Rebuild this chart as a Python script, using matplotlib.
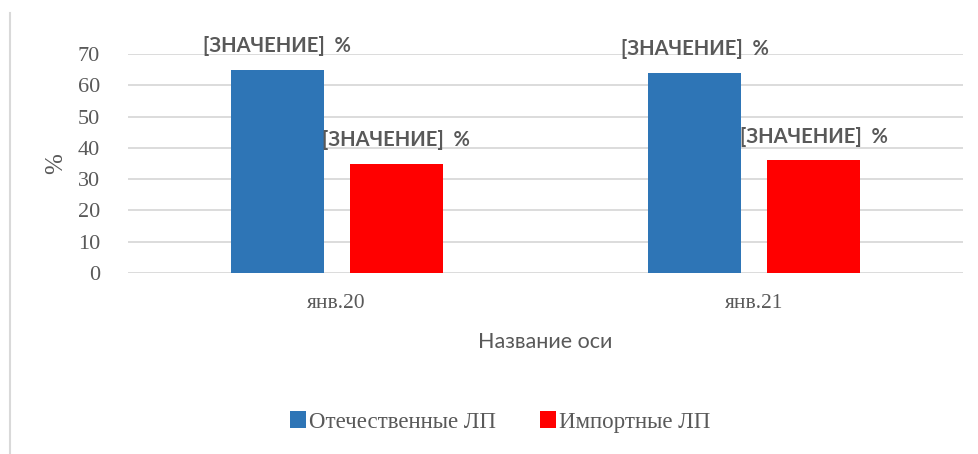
import matplotlib
matplotlib.use("Agg")
import matplotlib.pyplot as plt
from matplotlib.patches import Patch
import numpy as np

categories = ["янв.20", "янв.21"]
series_names = ["Отечественные ЛП", "Импортные ЛП"]
domestic = [65, 64]
imported = [35, 36]
label_text = "[ЗНАЧЕНИЕ]  %"
yticks = [0, 10, 20, 30, 40, 50, 60, 70]
y_title = "%"
x_title = "Название оси"

blue = "#2E75B6"
red = "#FF0000"
gray = "#595959"
grid = "#D9D9D9"
serif = ["Liberation Serif", "DejaVu Serif"]
sans = ["Lato", "DejaVu Sans"]

fig = plt.figure(figsize=(9.79, 4.54), dpi=100)
ax = fig.add_axes([128/979, 1-273/454, (963-128)/979, (273-54)/454])

x = np.arange(len(categories))
w = 0.223
off = 0.1425
b1 = ax.bar(x - off, domestic, w, color=blue, zorder=3)
b2 = ax.bar(x + off, imported, w, color=red, zorder=3)

for bars in (b1, b2):
    for r in bars:
        ax.annotate(label_text, (r.get_x() + r.get_width()/2, r.get_height()),
                    xytext=(0, 17), textcoords="offset points", ha="center", va="center",
                    fontsize=14.5, fontweight="bold", color=gray, family=sans, zorder=4)

ax.set_xlim(-0.5, 1.5)
ax.set_ylim(0, 70)
ax.set_yticks(yticks)
ax.set_xticks(x)
ax.set_xticklabels(categories, family=serif, fontsize=15.5, color=gray)
ax.set_yticklabels([str(t) for t in yticks], family=serif, fontsize=16, color=gray)
ax.tick_params(axis="y", length=0, pad=20)
ax.tick_params(axis="x", length=0, pad=15)
ax.yaxis.grid(True, color=grid, linewidth=1.3, zorder=0)
ax.set_axisbelow(True)
for s in ax.spines.values():
    s.set_visible(False)

ax.set_ylabel(y_title, family=serif, fontsize=18, color=gray, labelpad=8)
ax.set_xlabel(x_title, family=sans, fontsize=15.5, color=gray, labelpad=14)

# left border of chart area
fig.add_artist(plt.Line2D([10/979, 10/979], [0, 1-13/454], color="#D9D9D9", linewidth=1.5))

handles = [Patch(facecolor=blue), Patch(facecolor=red)]
leg = fig.legend(handles, series_names, loc="center", bbox_to_anchor=(500/979, 1-422/454),
                 ncol=2, frameon=False, handlelength=0.7, handleheight=0.7,
                 handletextpad=0.15, columnspacing=1.9,
                 prop={"family": serif, "size": 16.5})
for t in leg.get_texts():
    t.set_color(gray)

fig.savefig("out.png", dpi=100)
